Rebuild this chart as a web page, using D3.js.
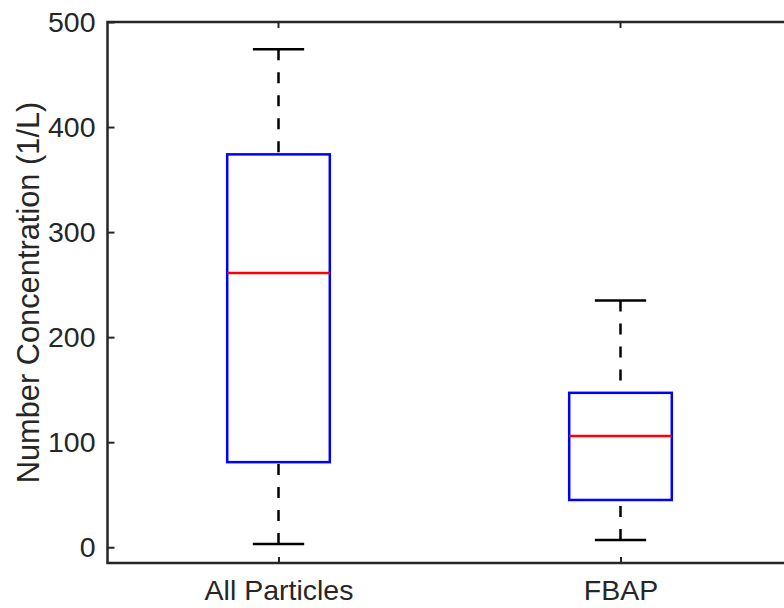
<!DOCTYPE html>
<html>
<head>
<meta charset="utf-8">
<script src="https://cdn.jsdelivr.net/npm/d3@7"></script>
<style>
  body { margin: 0; background: #fff; }
  svg text { font-family: "Liberation Sans", Arial, sans-serif; fill: #262626; }
</style>
</head>
<body>
<svg id="chart" width="784" height="608"></svg>
<script>
// groups and their box statistics
var categories = ["All Particles", "FBAP"];
var lowerWhisker = [3, 7];
var q1 = [81, 45];
var median = [261, 106];
var q3 = [374, 147];
var upperWhisker = [474, 235];
var yTicks = [0, 100, 200, 300, 400, 500];

var svg = d3.select("#chart");

var axLeft = 107.5, axTop = 22, axBottom = 563;
var fontSize = "28.5px";

var x = d3.scaleLinear().domain([0.5, 2.5]).range([axLeft, axLeft + 684]);
var y = d3.scaleLinear().domain([-15, 500]).range([axBottom, axTop]);

var boxes = categories.map(function (c, i) {
  return { name: c, pos: i + 1, lo: lowerWhisker[i], q1: q1[i], med: median[i], q3: q3[i], hi: upperWhisker[i] };
});

var g = svg.append("g");

// whiskers (dashed)
g.selectAll(".whisk-up").data(boxes).enter().append("line")
  .attr("x1", function (d) { return x(d.pos); })
  .attr("x2", function (d) { return x(d.pos); })
  .attr("y1", function (d) { return y(d.hi); })
  .attr("y2", function (d) { return y(d.q3); })
  .attr("stroke", "#000").attr("stroke-width", 2.5)
  .attr("stroke-dasharray", "11,12");

g.selectAll(".whisk-lo").data(boxes).enter().append("line")
  .attr("x1", function (d) { return x(d.pos); })
  .attr("x2", function (d) { return x(d.pos); })
  .attr("y1", function (d) { return y(d.lo); })
  .attr("y2", function (d) { return y(d.q1); })
  .attr("stroke", "#000").attr("stroke-width", 2.5)
  .attr("stroke-dasharray", "11,12");

// caps
["hi", "lo"].forEach(function (k) {
  g.selectAll(".cap-" + k).data(boxes).enter().append("line")
    .attr("x1", function (d) { return x(d.pos - 0.075); })
    .attr("x2", function (d) { return x(d.pos + 0.075); })
    .attr("y1", function (d) { return y(d[k]); })
    .attr("y2", function (d) { return y(d[k]); })
    .attr("stroke", "#000").attr("stroke-width", 2.5);
});

// boxes
g.selectAll(".box").data(boxes).enter().append("rect")
  .attr("x", function (d) { return x(d.pos - 0.15); })
  .attr("width", function (d) { return x(d.pos + 0.15) - x(d.pos - 0.15); })
  .attr("y", function (d) { return y(d.q3); })
  .attr("height", function (d) { return y(d.q1) - y(d.q3); })
  .attr("fill", "none").attr("stroke", "#0000ff").attr("stroke-width", 2.5);

// medians
g.selectAll(".med").data(boxes).enter().append("line")
  .attr("x1", function (d) { return x(d.pos - 0.15); })
  .attr("x2", function (d) { return x(d.pos + 0.15); })
  .attr("y1", function (d) { return y(d.med); })
  .attr("y2", function (d) { return y(d.med); })
  .attr("stroke", "#ff0000").attr("stroke-width", 2.5);

// axes
var yAxis = d3.axisLeft(y).tickValues(yTicks).tickSize(-7).tickPadding(12);
var yg = svg.append("g").attr("transform", "translate(" + axLeft + ",0)").call(yAxis);
yg.select(".domain").remove();
yg.selectAll("line").attr("stroke", "#262626").attr("stroke-width", 2);
yg.selectAll("text").attr("font-size", fontSize).attr("fill", "#262626").attr("font-family", null);

var xAxis = d3.axisBottom(x).tickValues([1, 2]).tickFormat(function (d) { return categories[d - 1]; })
  .tickSize(-6).tickPadding(17);
var xg = svg.append("g").attr("transform", "translate(0," + axBottom + ")").call(xAxis);
xg.select(".domain").remove();
xg.selectAll("line").attr("stroke", "#262626").attr("stroke-width", 2);
xg.selectAll("text").attr("font-size", fontSize).attr("fill", "#262626").attr("font-family", null);

// top ticks
svg.selectAll(".top-tick").data([1, 2]).enter().append("line")
  .attr("x1", function (d) { return x(d); }).attr("x2", function (d) { return x(d); })
  .attr("y1", axTop).attr("y2", axTop + 6)
  .attr("stroke", "#262626").attr("stroke-width", 2);

// frame lines
svg.append("path")
  .attr("d", "M" + x(2.5) + "," + axTop + "H" + axLeft + "V" + axBottom + "H" + x(2.5))
  .attr("fill", "none").attr("stroke", "#262626").attr("stroke-width", 2.5);

// y label
svg.append("text")
  .attr("transform", "translate(38.5," + ((axTop + axBottom) / 2) + ") rotate(-90)")
  .attr("text-anchor", "middle")
  .attr("font-size", "30.8px")
  .text("Number Concentration (1/L)");
</script>
</body>
</html>
